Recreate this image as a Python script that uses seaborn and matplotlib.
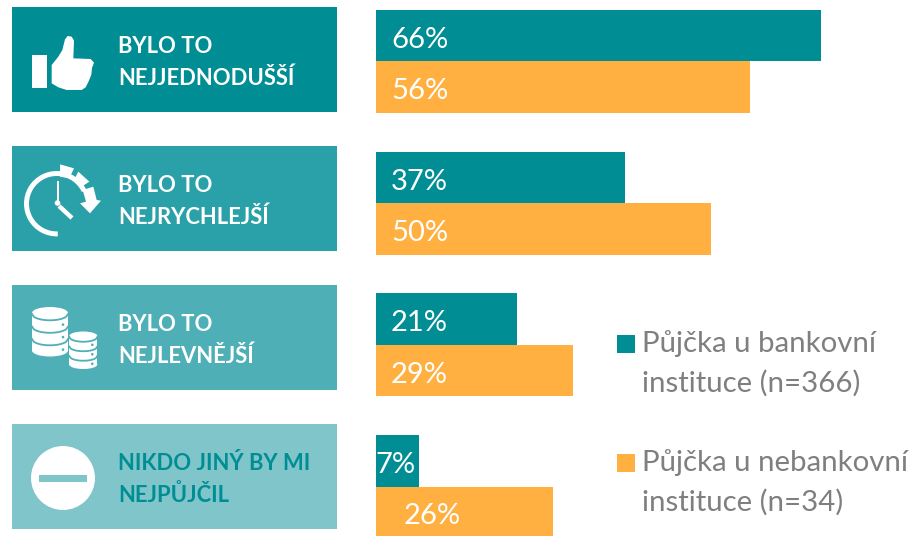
import matplotlib
matplotlib.use("Agg")
import matplotlib.pyplot as plt
from matplotlib.patches import Rectangle, Polygon, Circle, Ellipse, Wedge
import pandas as pd
import seaborn as sns

reasons = ["nejjednodussi", "nejrychlejsi", "nejlevnejsi", "nikdo jiny"]
panel_titles = ["BYLO TO\nNEJJEDNODUŠŠÍ", "BYLO TO\nNEJRYCHLEJŠÍ", "BYLO TO\nNEJLEVNĚJŠÍ", "NIKDO JINÝ BY MI\nNEJPŮJČIL"]
series = ["Půjčka u bankovní\ninstituce (n=366)", "Půjčka u nebankovní\ninstituce (n=34)"]
bank_values = [66.1, 37.0, 21.0, 6.4]
nonbank_values = [55.6, 49.8, 29.3, 26.3]
bank_labels = ["66%", "37%", "21%", "7%"]
nonbank_labels = ["56%", "50%", "29%", "26%"]

TEAL = "#008e94"
ORANGE = "#ffb040"
GREY = "#7f7f7f"
panel_colors = ["#008e94", "#2aa0a8", "#4fafb6", "#80c5ca"]
FONT = "Lato"

W, H = 914, 536
fig = plt.figure(figsize=(W / 100, H / 100), dpi=100)

# bars
ax = fig.add_axes([376 / W, 0, (W - 376) / W, 1])
df = pd.DataFrame({
    "reason": reasons * 2,
    "share": bank_values + nonbank_values,
    "type": [series[0]] * 4 + [series[1]] * 4,
})
sns.barplot(data=df, y="reason", x="share", hue="type", palette=[TEAL, ORANGE],
            saturation=1, width=0.727, gap=0, legend=False, ax=ax)
ax.set_xlim(0, (W - 376) / 6.73)
ax.set_ylim(3.349, -0.434)
ax.axis("off")

offsets = [[15, 15, 15, -1], [15, 15, 15, 28]]
for container, labels, offs in zip(ax.containers, [bank_labels, nonbank_labels], offsets):
    for patch, label, off in zip(container, labels, offs):
        ax.annotate(label, (0, patch.get_y() + patch.get_height() / 2), xytext=(off * 0.72, -3),
                    textcoords="offset points", color="white", fontsize=21, family=FONT,
                    ha="left", va="center", annotation_clip=False)

# left panels, legend and icons in pixel coordinates
ov = fig.add_axes([0, 0, 1, 1], facecolor="none")
ov.set_xlim(0, W)
ov.set_ylim(H, 0)
ov.axis("off")

tops = [7, 146, 285, 424]
for i, (top, color, title) in enumerate(zip(tops, panel_colors, panel_titles)):
    ov.add_patch(Rectangle((12, top), 325, 105, color=color, lw=0))
    text_color = TEAL if i == 3 else "white"
    first, second = title.split("\n")
    ov.text(118.5, top + 39.5, first, color=text_color, fontsize=15.8, family=FONT, weight="bold", va="center")
    ov.text(118.5, top + 71.5, second, color=text_color, fontsize=15.8, family=FONT, weight="bold", va="center")


def zoomed(points, dy=0):
    return [(x / 3, y / 3 + dy) for x, y in points]


# thumb up
ov.add_patch(Rectangle((32, 55), 15, 33, color="white", lw=0))
ov.add_patch(Polygon(zoomed([(155, 195), (175, 170), (187, 150), (195, 118), (203, 108), (215, 110), (222, 122),
                             (220, 175), (272, 177), (282, 188), (276, 204), (274, 224), (266, 244), (257, 262),
                             (245, 270), (200, 270), (175, 262), (155, 250)]), color="white", lw=0))

# clock
ov.add_patch(Wedge((56.7, 203.7), 32.7, 88, 335, width=5, color="white", lw=0))
ov.add_patch(Rectangle((56.5, 181), 2, 21, color="white", lw=0))
ov.add_patch(Circle((57.5, 203), 2.8, color="white", lw=0))
ov.plot([59, 72], [206, 218], color="white", lw=3.2, solid_capstyle="butt")
ov.add_patch(Polygon(zoomed([(180, 493), (222, 505), (208, 535), (180, 530)]), color="white", lw=0))
ov.add_patch(Polygon(zoomed([(235, 515), (268, 545), (245, 560), (222, 540)]), color="white", lw=0))
ov.add_patch(Polygon(zoomed([(248, 570), (280, 560), (290, 600), (303, 602), (270, 640), (240, 610), (258, 605)]),
                     color="white", lw=0))


# coins
def coins(cx, top, w, seg, ry, n, gap_color):
    ov.add_patch(Rectangle((cx - w / 2, top), w, seg * n, color="white", lw=0))
    ov.add_patch(Ellipse((cx, top + seg * n), w, ry * 2, color="white", lw=0))
    for k in range(1, n + 1):
        t = [i / 20 for i in range(21)]
        xs = [cx - w / 2 + w * v for v in t]
        ys = [top + seg * (k - 1) + ry * 1.05 * (1 - (2 * v - 1) ** 2) ** 0.5 + 1 for v in t]
        ov.plot(xs, ys, color=gap_color, lw=1.3)
        ov.add_patch(Circle((cx + w / 2 - 5, top + seg * (k - 1) + ry + seg * 0.45), 1.3, color=gap_color, lw=0))
    ov.add_patch(Ellipse((cx, top), w, ry * 2, color="white", lw=0))


coins(50, 313, 36, 12.5, 6, 3, panel_colors[2])
coins(83.3, 336, 28, 9.5, 4.5, 3, panel_colors[2])

# no entry sign
ov.add_patch(Circle((63, 478), 32, color="white", lw=0))
ov.add_patch(Rectangle((39, 475), 48, 6.5, color=panel_colors[3], lw=0))

# legend
for y, color, label in zip([335, 454], [TEAL, ORANGE], series):
    ov.add_patch(Rectangle((617, y), 18, 18, color=color, lw=0))
    first, second = label.split("\n")
    ov.text(642, y + 9, first, color=GREY, fontsize=21.2, family=FONT, va="center")
    ov.text(642, y + 48.5, second, color=GREY, fontsize=21.2, family=FONT, va="center")

fig.savefig("out.png", dpi=100)
